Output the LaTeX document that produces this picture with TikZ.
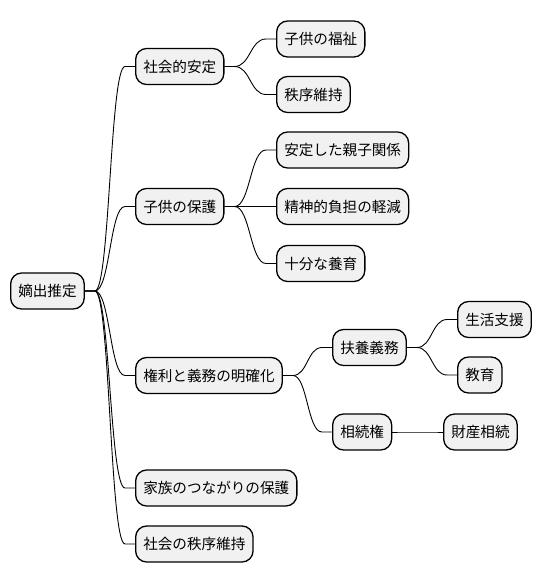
\documentclass[tikz,border=0pt]{standalone}
\usepackage{fontspec}
\setmainfont{Noto Sans CJK JP}
\usetikzlibrary{calc}
\tikzset{
  mmbox/.style={draw=black, line width=1.3pt, fill=boxgray, rounded corners=11pt,
    minimum height=36pt, inner xsep=7.6pt, inner ysep=0pt, anchor=west,
    font=\fontsize{14.6}{16}\selectfont},
  mmlink/.style={draw=black, line width=0.9pt},
}
\definecolor{boxgray}{HTML}{F1F1F1}
\newcommand\mmconnect[2]{%
  \draw[mmlink] let \p1=($(#1.east)+(10pt,0)$), \p2=($(#2.west)+(-10pt,0)$) in
    (#1.east) -- (\p1) .. controls ({0.5*\x1+0.5*\x2},\y1) and ({0.5*\x1+0.5*\x2},\y2) .. (\p2) -- (#2.west);}
\begin{document}
\begin{tikzpicture}[x=1pt,y=-1pt]
\useasboundingbox (0,0) rectangle (544,583);
\node[mmbox] (root) at (10,291) {嫡出推定};
\node[mmbox] (a) at (135,66.5) {社会的安定};
\node[mmbox] (a1) at (276,39) {子供の福祉};
\node[mmbox] (a2) at (276,94.5) {秩序維持};
\node[mmbox] (b) at (135,206.5) {子供の保護};
\node[mmbox] (b1) at (276,150) {安定した親子関係};
\node[mmbox] (b2) at (276,206.5) {精神的負担の軽減};
\node[mmbox] (b3) at (276,263.5) {十分な養育};
\node[mmbox] (c) at (135,375.5) {権利と義務の明確化};
\node[mmbox] (c1) at (332,347.5) {扶養義務};
\node[mmbox] (c11) at (457,319.5) {生活支援};
\node[mmbox] (c12) at (457,375) {教育};
\node[mmbox] (c2) at (332,432) {相続権};
\node[mmbox] (c21) at (443,432) {財産相続};
\node[mmbox] (d) at (135,488) {家族のつながりの保護};
\node[mmbox] (e) at (135,544) {社会の秩序維持};
\mmconnect{root}{a}
\mmconnect{root}{b}
\mmconnect{root}{c}
\mmconnect{root}{d}
\mmconnect{root}{e}
\mmconnect{a}{a1}
\mmconnect{a}{a2}
\mmconnect{b}{b1}
\mmconnect{b}{b2}
\mmconnect{b}{b3}
\mmconnect{c}{c1}
\mmconnect{c}{c2}
\mmconnect{c1}{c11}
\mmconnect{c1}{c12}
\mmconnect{c2}{c21}
\end{tikzpicture}
\end{document}
